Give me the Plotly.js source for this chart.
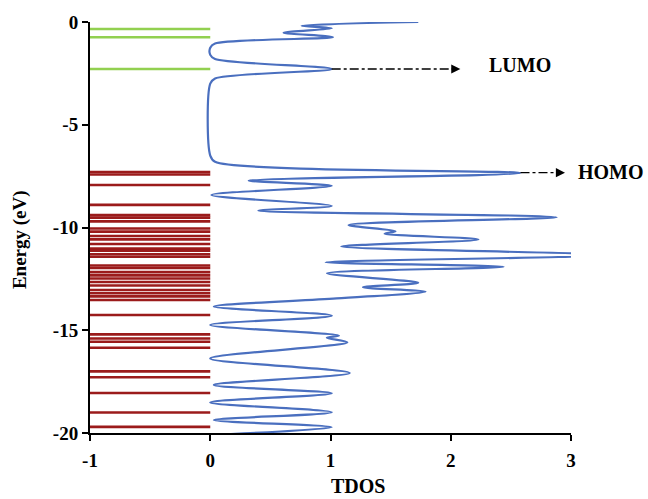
<!DOCTYPE html>
<html>
<head>
<meta charset="utf-8">
<script src="https://cdn.plot.ly/plotly-3.0.1.min.js"></script>
<style>html,body{margin:0;padding:0;background:#fff;}#chart{width:648px;height:499px;}</style>
</head>
<body>
<div id="chart"></div>
<script>
// Unoccupied (green) and occupied (dark red) energy levels, eV
const unoccupiedLevels = [-0.34, -0.74, -2.29];
const occupiedLevels = [-7.30, -7.42, -7.93, -8.90, -9.40, -9.52, -9.70, -10.05, -10.20, -10.41,
  -10.58, -10.80, -11.03, -11.13, -11.30, -11.42, -11.85, -11.97, -12.17, -12.33, -12.48,
  -12.65, -12.82, -13.04, -13.20, -13.35, -13.53, -14.26, -15.20, -15.40, -15.56, -15.85,
  -17.00, -17.29, -18.05, -19.00, -19.70];
// level bars span this TDOS interval
const levelSpan = [-1, 0];

// TDOS curve
const tdosValues = [1.73, 0.76, 1.01, 0.61, 1.02, 0.04, 0.0, 0.0, 0.04, 1.01, 0.04, 0.0, 0.0, 0.04,
  2.58, 0.32, 1.01, 0.01, 1.01, 0.40, 2.88, 1.15, 1.54, 1.45, 2.23, 1.09, 3.3, 0.96, 2.44, 0.97,
  1.73, 1.27, 1.79, 1.05, 0.03, 1.01, 0.0, 1.07, 0.97, 1.14, 0.0, 1.16, 0.03, 1.01, 0.0, 1.01,
  0.03, 1.01, 0.0];
const tdosEnergy = [0.0, -0.18, -0.31, -0.52, -0.74, -1.05, -1.25, -1.6, -1.8, -2.29, -2.75, -3.0,
  -6.5, -6.8, -7.35, -7.72, -7.97, -8.42, -8.95, -9.18, -9.50, -9.88, -10.18, -10.30, -10.58,
  -10.93, -11.34, -11.69, -11.91, -12.23, -12.69, -12.91, -13.12, -13.45, -13.85, -14.29, -14.74,
  -15.26, -15.36, -15.59, -16.37, -17.08, -17.66, -18.07, -18.51, -18.99, -19.37, -19.72, -20.1];

// Frontier orbitals
const lumoEnergy = -2.29, lumoTDOS = 1.01, lumoArrowEnd = 2.08;
const homoEnergy = -7.33, homoTDOS = 2.58, homoArrowEnd = 2.95;
const lumoLabelPos = [2.58, -2.09], homoLabelPos = [3.33, -7.28];

const xTicks = [-1, 0, 1, 2, 3];
const yTicks = [0, -5, -10, -15, -20];
const xRange = [-1, 3];

function levelTrace(levels, color) {
  const x = [], y = [];
  levels.forEach(e => { x.push(levelSpan[0], levelSpan[1], null); y.push(e, e, null); });
  return {x, y, type: 'scatter', mode: 'lines', line: {color, width: 2.6}, hoverinfo: 'skip', showlegend: false};
}
const toPaperX = v => (v - xRange[0]) / (xRange[1] - xRange[0]);

const serif = 'Liberation Serif, Times New Roman, serif';

const traces = [
  levelTrace(unoccupiedLevels, '#92d050'),
  levelTrace(occupiedLevels, '#9b1b1b'),
  {x: tdosValues, y: tdosEnergy, type: 'scatter', mode: 'lines',
   line: {color: '#4a6fbf', width: 2.2, shape: 'spline', smoothing: 0.9}, showlegend: false},
  {x: [lumoTDOS, lumoArrowEnd - 0.06], y: [lumoEnergy, lumoEnergy], type: 'scatter', mode: 'lines',
   line: {color: '#000', width: 1.4, dash: 'dashdot'}, showlegend: false, cliponaxis: false},
  {x: [homoTDOS, homoArrowEnd - 0.06], y: [homoEnergy, homoEnergy], type: 'scatter', mode: 'lines',
   line: {color: '#000', width: 1.4, dash: 'dashdot'}, showlegend: false, cliponaxis: false}
];

const layout = {
  width: 648, height: 499,
  margin: {l: 90, r: 77, t: 22, b: 66},
  paper_bgcolor: '#fff', plot_bgcolor: '#fff',
  font: {family: serif, color: '#000'},
  xaxis: {
    range: xRange, tickvals: xTicks, ticktext: xTicks.map(String),
    showgrid: false, zeroline: false, showline: true, linecolor: '#000', linewidth: 2,
    ticks: 'outside', ticklen: 6, tickwidth: 2, tickcolor: '#000', ticklabelstandoff: 3,
    tickfont: {family: serif, size: 19, weight: 'bold'}
  },
  yaxis: {
    range: [-20, 0], tickvals: yTicks, ticktext: yTicks.map(String),
    showgrid: false, zeroline: false, showline: true, linecolor: '#000', linewidth: 2,
    ticks: 'outside', ticklen: 6, tickwidth: 2, tickcolor: '#000',
    tickfont: {family: serif, size: 19, weight: 'bold'}
  },
  annotations: [
    {x: lumoArrowEnd, y: lumoEnergy, xref: 'x', yref: 'y', ax: -10, ay: 0, showarrow: true,
     arrowhead: 2, arrowsize: 1.3, arrowwidth: 1.4, arrowcolor: '#000', text: ''},
    {x: homoArrowEnd, y: homoEnergy, xref: 'x', yref: 'y', ax: -10, ay: 0, showarrow: true,
     arrowhead: 2, arrowsize: 1.3, arrowwidth: 1.4, arrowcolor: '#000', text: ''},
    {x: toPaperX(lumoLabelPos[0]), y: lumoLabelPos[1], xref: 'paper', yref: 'y', xanchor: 'center',
     yanchor: 'middle', text: '<b>LUMO</b>', showarrow: false, font: {family: serif, size: 20, color: '#000'}},
    {x: toPaperX(homoLabelPos[0]), y: homoLabelPos[1], xref: 'paper', yref: 'y', xanchor: 'center',
     yanchor: 'middle', text: '<b>HOMO</b>', showarrow: false, font: {family: serif, size: 20, color: '#000'}},
    // axis titles
    {x: 0.557, y: -0.128, xref: 'paper', yref: 'paper', xanchor: 'center', yanchor: 'middle',
     text: '<b>TDOS</b>', showarrow: false, font: {family: serif, size: 20, color: '#000'}},
    {x: -0.145, y: 0.47, xref: 'paper', yref: 'paper', xanchor: 'center', yanchor: 'middle',
     textangle: -90, text: '<b>Energy (eV)</b>', showarrow: false, font: {family: serif, size: 19, color: '#000'}}
  ]
};

Plotly.newPlot('chart', traces, layout, {displayModeBar: false, staticPlot: true});
</script>
</body>
</html>
